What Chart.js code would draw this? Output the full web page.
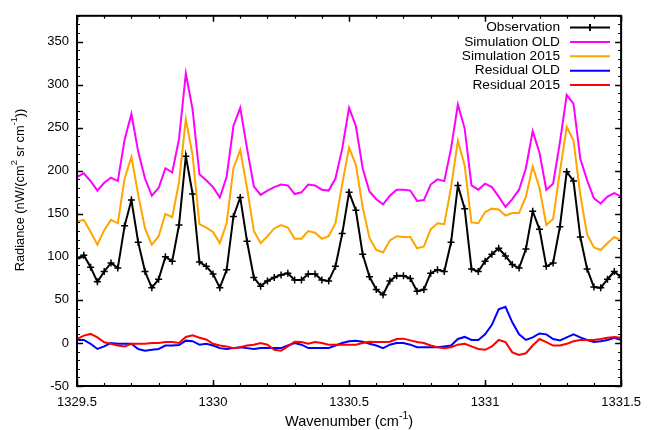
<!DOCTYPE html>
<html>
<head>
<meta charset="utf-8">
<script src="https://cdn.jsdelivr.net/npm/chart.js@4"></script>
<style>
  html, body { margin: 0; padding: 0; background: #fff; }
  #wrap { width: 650px; height: 430px; }
</style>
</head>
<body>
<div id="wrap"><canvas id="grafico" width="650" height="430"></canvas></div>
<script>
/* ---------- data ---------- */
const waveStart = 1329.5;
const waveStep = 0.025;

const observation = [98, 102, 88, 71, 83, 93, 87, 136, 166, 117, 83, 64, 74, 100, 95, 137, 217, 173, 94, 89,
  80, 64, 85, 147, 169, 118, 76, 66, 72, 76, 79, 81, 73, 73, 80, 80, 73, 72, 89, 127,
  175, 154, 103, 77, 62, 56, 72, 78, 78, 75, 60, 62, 81, 85, 83, 117, 183, 156, 86, 83,
  95, 103, 110, 101, 91, 87, 109, 153, 132, 89, 93, 135, 199, 188, 123, 86, 65, 64, 74, 83, 76];

const simOld = [193, 197, 188, 177, 186, 192, 188, 236, 266, 222, 191, 171, 180, 203, 198, 237, 313, 271, 196, 189,
  181, 169, 193, 252, 273, 226, 182, 172, 177, 181, 184, 183, 173, 175, 184, 183, 178, 177, 191, 226,
  273, 252, 203, 176, 167, 161, 171, 178, 178, 177, 165, 166, 184, 190, 188, 226, 277, 249, 183, 178,
  185, 181, 170, 158, 167, 178, 203, 246, 221, 178, 185, 233, 288, 278, 214, 189, 168, 162, 170, 174, 170];

const sim2015 = [141, 143, 129, 114, 131, 143, 139, 191, 216, 172, 133, 114, 124, 150, 146, 187, 260, 218, 138, 134,
  129, 116, 139, 203, 224, 180, 130, 116, 124, 133, 137, 134, 121, 121, 130, 128, 121, 124, 139, 185,
  227, 207, 158, 122, 108, 105, 119, 124, 123, 123, 110, 112, 132, 139, 138, 181, 235, 206, 140, 139,
  152, 156, 155, 148, 151, 151, 170, 205, 180, 137, 144, 199, 251, 235, 172, 126, 111, 108, 116, 123, 119];

const residualOld = [3.5, 3.5, -1, -7, -4, 0, -1, -1, -1, -7, -9, -8, -7, -3, -3, -2.5, 2.7, 2, -2, -1,
  -3, -6, -7, -6, -5, -6, -7, -6, -6, -6, -6, -3, 0, -2, -6, -6, -6, -6, -3, 0,
  2, 2.5, 1.5, -1, -3, -6, -2, 0, 0, -2, -5, -5, -5, -5, -4, -3, 4.6, 7, 3.5, 3.5,
  10, 21, 39, 42, 24, 10, 3.5, 6.5, 11, 10, 4.6, 3, 6.5, 10, 6.5, 3.5, 1, 2, 3.5, 6, 3.5];

const residual2015 = [4.6, 8.5, 10.5, 6.5, 0.8, -1, -3, -4, -1, -1, -1, 0, 0, 1, 1, 0, 7, 9, 6, 4,
  -1, -3, -4, -6, -5, -3, -2, 0, -2, -8, -9, -4, 1.5, 1, -1, 1, 0, -2, -2, -2,
  -2, -2, 0, 1.5, 1, 1, 1.5, 4.6, 5, 3, 1, 0, -3, -5, -6, -5, -2, -1, -4, -7,
  -8, -4, 3.5, 1, -11, -14, -12, -3, 4.6, 1, -3, -3, -1, 2, 3.5, 3.5, 3.5, 4.6, 6, 7, 6];

const legendLabels = ['Observation', 'Simulation OLD', 'Simulation 2015', 'Residual OLD', 'Residual 2015'];
const seriesColors = ['#000000', '#ff00ff', '#ffa500', '#0000ff', '#ff0000'];

const xTicks = [1329.5, 1330, 1330.5, 1331, 1331.5];
const yTicks = [-50, 0, 50, 100, 150, 200, 250, 300, 350];

/* ---------- helpers ---------- */
const FONT = '"Liberation Sans", Arial, sans-serif';

function pontos(valores) {
  return valores.map((v, i) => ({ x: waveStart + i * waveStep, y: v }));
}

// draws text with superscript parts, centred on (0,0) of the current transform
function textoRico(ctx, partes, size) {
  const supSize = size * 0.72;
  let total = 0;
  partes.forEach(p => {
    ctx.font = `${p.sup ? supSize : size}px ${FONT}`;
    p.w = ctx.measureText(p.t).width;
    total += p.w;
  });
  let x = -total / 2;
  ctx.textAlign = 'left';
  ctx.textBaseline = 'middle';
  partes.forEach(p => {
    ctx.font = `${p.sup ? supSize : size}px ${FONT}`;
    ctx.fillText(p.t, x, p.sup ? -size * 0.4 : 0);
    x += p.w;
  });
}

/* ---------- gnuplot-like frame, ticks, titles, key ---------- */
const molduraPlugin = {
  id: 'moldura',
  afterDatasetsDraw(chart) {
    const { ctx, chartArea: a, scales } = chart;
    const sx = scales.x, sy = scales.y;
    ctx.save();
    ctx.strokeStyle = '#000';

    // minor ticks
    ctx.lineWidth = 1.2;
    ctx.beginPath();
    for (let k = 0; k <= 20; k++) {
      const px = Math.round(sx.getPixelForValue(waveStart + k * 0.1)) + 0.5;
      ctx.moveTo(px, a.bottom); ctx.lineTo(px, a.bottom - 3);
      ctx.moveTo(px, a.top); ctx.lineTo(px, a.top + 3);
    }
    for (let v = -50; v <= 380; v += 10) {
      const py = Math.round(sy.getPixelForValue(v)) + 0.5;
      ctx.moveTo(a.left, py); ctx.lineTo(a.left + 3, py);
      ctx.moveTo(a.right, py); ctx.lineTo(a.right - 3, py);
    }
    ctx.stroke();

    // major ticks
    ctx.lineWidth = 1.5;
    ctx.beginPath();
    xTicks.forEach(t => {
      const px = Math.round(sx.getPixelForValue(t)) + 0.5;
      ctx.moveTo(px, a.bottom); ctx.lineTo(px, a.bottom - 6);
      ctx.moveTo(px, a.top); ctx.lineTo(px, a.top + 6);
    });
    yTicks.forEach(t => {
      const py = Math.round(sy.getPixelForValue(t)) + 0.5;
      ctx.moveTo(a.left, py); ctx.lineTo(a.left + 6, py);
      ctx.moveTo(a.right, py); ctx.lineTo(a.right - 6, py);
    });
    ctx.stroke();

    // border
    ctx.lineWidth = 2;
    ctx.strokeRect(a.left, a.top, a.right - a.left, a.bottom - a.top);

    // axis titles
    ctx.fillStyle = '#000';
    ctx.save();
    ctx.translate((a.left + a.right) / 2, 422);
    textoRico(ctx, [{ t: 'Wavenumber (cm' }, { t: '-1', sup: true }, { t: ')' }], 14.5);
    ctx.restore();

    ctx.save();
    ctx.translate(20, 190);
    ctx.rotate(-Math.PI / 2);
    textoRico(ctx, [{ t: 'Radiance (nW/(cm' }, { t: '2', sup: true }, { t: ' sr cm' }, { t: '-1', sup: true }, { t: '))' }], 12.8);
    ctx.restore();

    // key
    ctx.font = `13.7px ${FONT}`;
    ctx.textAlign = 'right';
    ctx.textBaseline = 'middle';
    legendLabels.forEach((lab, k) => {
      const yy = 27.5 + k * 14.4;
      ctx.fillStyle = '#000';
      ctx.fillText(lab, 560, yy);
      ctx.strokeStyle = seriesColors[k];
      ctx.lineWidth = 2;
      ctx.beginPath();
      ctx.moveTo(570, yy); ctx.lineTo(610, yy);
      if (k === 0) {
        ctx.moveTo(590, yy - 3.5); ctx.lineTo(590, yy + 3.5);
      }
      ctx.stroke();
    });

    ctx.restore();
  }
};

/* ---------- chart ---------- */
const series = [observation, simOld, sim2015, residualOld, residual2015];

new Chart(document.getElementById('grafico'), {
  type: 'line',
  data: {
    datasets: series.map((s, k) => ({
      label: legendLabels[k],
      data: pontos(s),
      borderColor: seriesColors[k],
      backgroundColor: seriesColors[k],
      borderWidth: 2,
      tension: 0,
      pointRadius: k === 0 ? 3.5 : 0,
      pointStyle: 'cross',
      pointBorderWidth: 1.5,
      order: k === 0 ? 10 : 5 - k
    })).reverse()
  },
  options: {
    responsive: false,
    animation: false,
    events: [],
    layout: { padding: { left: 0, right: 26, top: 13, bottom: 0 } },
    plugins: {
      legend: { display: false },
      tooltip: { enabled: false }
    },
    scales: {
      x: {
        type: 'linear',
        min: 1329.5,
        max: 1331.5,
        grid: { display: false, drawTicks: false },
        border: { display: false },
        afterBuildTicks: sc => { sc.ticks = xTicks.map(v => ({ value: v })); },
        afterFit: sc => { sc.height = 44; },
        ticks: {
          padding: 9,
          maxRotation: 0,
          color: '#000',
          font: { family: FONT, size: 13 },
          callback: v => String(v)
        }
      },
      y: {
        min: -50,
        max: 380,
        grid: { display: false, drawTicks: false },
        border: { display: false },
        afterBuildTicks: sc => { sc.ticks = yTicks.map(v => ({ value: v })); },
        afterFit: sc => { sc.width = 77; },
        ticks: {
          padding: 8,
          color: '#000',
          font: { family: FONT, size: 13 },
          callback: v => String(v)
        }
      }
    }
  },
  plugins: [molduraPlugin]
});
</script>
</body>
</html>
